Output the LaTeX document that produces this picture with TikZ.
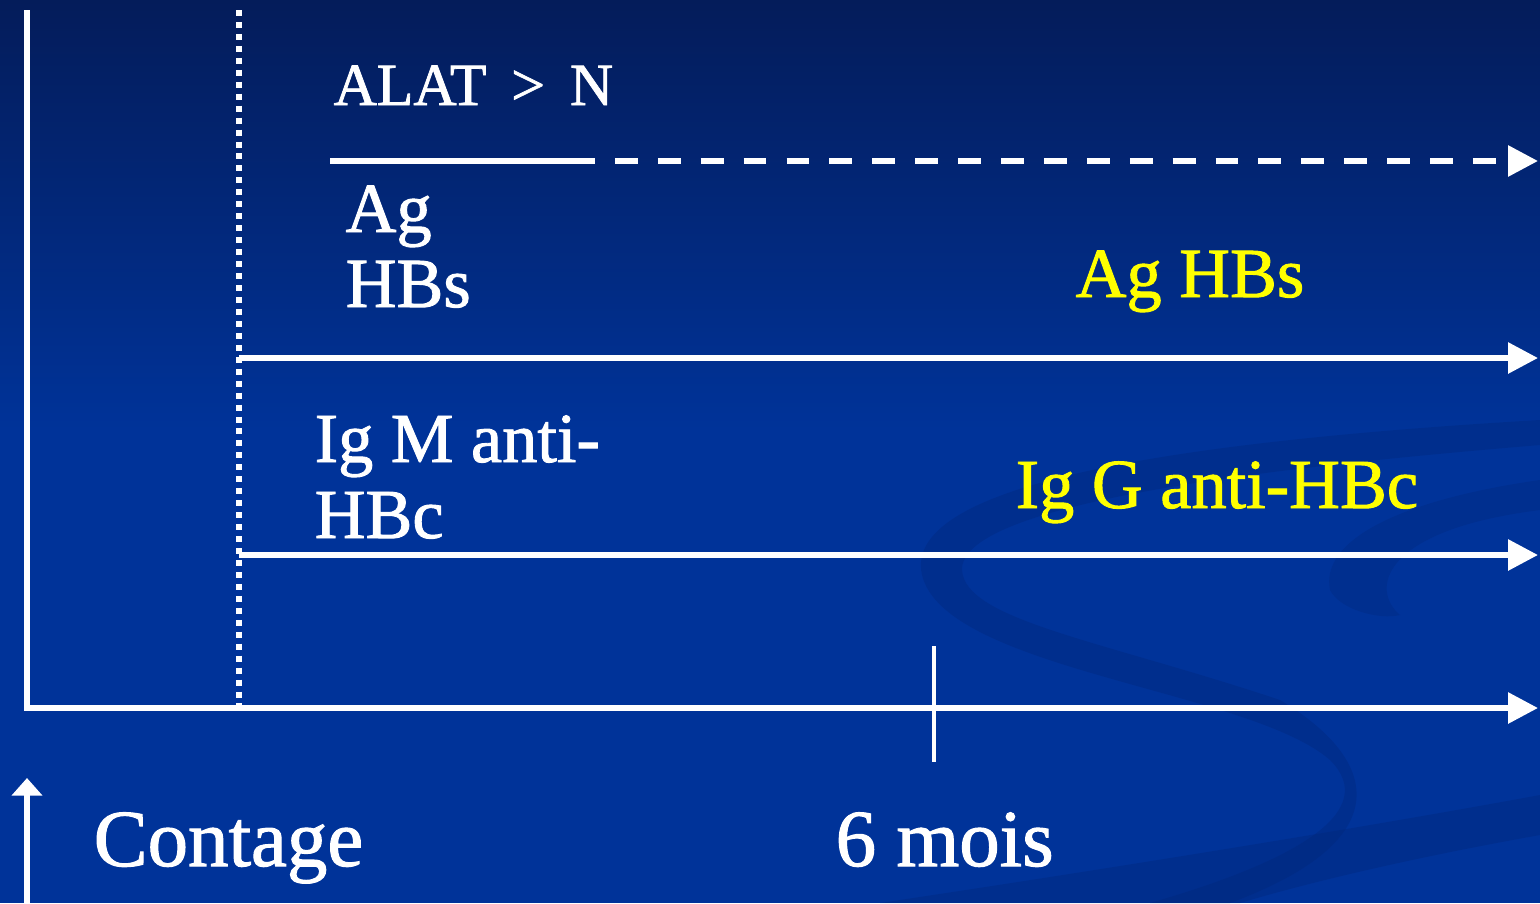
\documentclass[tikz,border=0pt]{standalone}
\usepackage{fontspec}
\setmainfont{Liberation Serif}
\newfontfamily\labfont{Liberation Serif}[FakeBold=1.3]
\usetikzlibrary{arrows.meta}
\definecolor{bgtop}{RGB}{4,28,90}
\definecolor{bgmid}{RGB}{0,51,153}
\definecolor{swirl}{RGB}{0,38,120}
\definecolor{labyellow}{RGB}{255,255,0}
\begin{document}
\begin{tikzpicture}[x=0.01cm,y=-0.01cm,
  axisline/.style={draw=white,line width=1.7pt},
  arrowed/.style={-{Triangle[length=8.5pt,width=8.5pt]}},
  dotline/.style={draw=white,line width=1.7pt,dash pattern=on 1.7pt off 1.7pt},
  dashline/.style={draw=white,line width=1.7pt,dash pattern=on 6.5pt off 5.7pt},
  ticklinestyle/.style={draw=white,line width=1.4pt},
  lab/.style={anchor=base west,inner sep=0pt,text=white,font=\labfont\fontsize{20}{24}\selectfont},
  ylab/.style={lab,text=labyellow},
  smalllab/.style={lab,font=\labfont\fontsize{17}{20}\selectfont},
  biglab/.style={lab,font=\labfont\fontsize{23}{27}\selectfont}]
\useasboundingbox (0,0) rectangle (1540,903);
% background
\shade[top color=bgtop,bottom color=bgmid] (0,0) rectangle (1540,430);
\fill[bgmid] (0,429) rectangle (1540,903);
% swirl decoration
\fill[swirl,opacity=0.35] (1540,420) .. controls (1200,440) and (900,480) .. (922,575)
  .. controls (945,670) and (1250,690) .. (1330,760)
  .. controls (1380,810) and (1300,860) .. (1150,903) -- (1230,903)
  .. controls (1400,840) and (1380,760) .. (1280,700)
  .. controls (1100,640) and (965,620) .. (962,570)
  .. controls (960,500) and (1300,465) .. (1540,445) -- cycle;
\fill[swirl,opacity=0.3] (1540,480) .. controls (1400,500) and (1320,540) .. (1330,590)
  .. controls (1340,610) and (1380,620) .. (1400,615)
  .. controls (1370,590) and (1380,530) .. (1540,510) -- cycle;
\fill[swirl,opacity=0.35] (880,903) .. controls (1100,870) and (1350,830) .. (1540,795)
  -- (1540,835) .. controls (1400,860) and (1300,885) .. (1240,903) -- cycle;
% coordinates
\coordinate (yTop) at (27,10);
\coordinate (xEnd) at (1538,708);
\coordinate (dTop) at (239,10);
\coordinate (dBot) at (239,705);
\coordinate (alatA) at (330,161);
\coordinate (alatB) at (572,161);
\coordinate (alatEnd) at (1538,161);
\coordinate (agA) at (239,358);
\coordinate (agEnd) at (1538,358);
\coordinate (igA) at (239,555);
\coordinate (igEnd) at (1538,555);
\coordinate (tickT) at (934,646);
\coordinate (tickB) at (934,762);
\coordinate (cBot) at (27,903);
\coordinate (cTip) at (27,778);
% lines
\draw[axisline,arrowed] (yTop) |- (xEnd);
\draw[dotline] (dTop) -- (dBot);
\draw[axisline] (alatA) -- (alatB);
\draw[dashline,arrowed] (alatB) -- (alatEnd);
\draw[axisline,arrowed] (agA) -- (agEnd);
\draw[axisline,arrowed] (igA) -- (igEnd);
\draw[ticklinestyle] (tickT) -- (tickB);
\draw[axisline,-{Triangle[length=5pt,width=8.5pt]}] (cBot) -- (cTip);
% labels
\node[smalllab] (alat) at (333,105) {ALAT \,>\, N};
\node[lab] (ag1) at (345,232) {Ag};
\node[lab] (ag2) at (345,307) {HBs};
\node[ylab] (agy) at (1075,297) {Ag HBs};
\node[lab] (igm1) at (314,462) {Ig M anti-};
\node[lab] (igm2) at (314,538) {HBc};
\node[ylab] (igg) at (1015,508) {Ig G anti-HBc};
\node[biglab] (contage) at (93,866) {Contage};
\node[biglab] (mois) at (835,866) {6 mois};
\end{tikzpicture}
\end{document}
